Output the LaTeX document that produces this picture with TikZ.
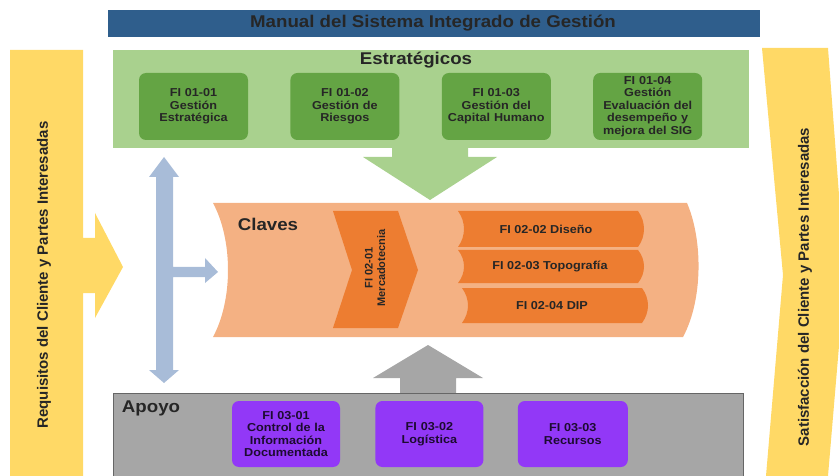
\documentclass[tikz,border=0pt]{standalone}
\usepackage{fontspec}
\setmainfont{Liberation Sans}[FakeStretch=1.1]
\newfontfamily\upright{Liberation Sans}
\usetikzlibrary{positioning}
\definecolor{titleblue}{RGB}{47,94,140}
\definecolor{estlight}{RGB}{169,209,142}
\definecolor{estdark}{RGB}{100,164,68}
\definecolor{sideyellow}{RGB}{255,217,102}
\definecolor{flowblue}{RGB}{168,188,216}
\definecolor{clavlight}{RGB}{244,177,131}
\definecolor{clavdark}{RGB}{237,125,49}
\definecolor{apogray}{RGB}{166,166,166}
\definecolor{apopurple}{RGB}{146,56,247}
\tikzset{
x=1pt, y=-1pt, % one unit is one pixel of the original, y going down
every node/.style={font=\bfseries, text=black!85}, % all text is bold
procbox/.style={rounded corners=7pt, minimum width=109pt, minimum height=67pt, text width=106pt, align=center, inner sep=0pt, font=\bfseries\fontsize{11.5}{12.5}\selectfont}, % process boxes
estbox/.style={procbox, fill=estdark}, % strategic processes
apobox/.style={procbox, fill=apopurple, text=black!80!apopurple}, % support processes
barlabel/.style={font=\bfseries\fontsize{11.5}{13}\selectfont}, % text on the orange bars
grouplabel/.style={font=\bfseries\fontsize{17}{19}\selectfont}, % group titles
sidelabel/.style={rotate=90, font=\upright\bfseries\fontsize{15}{17}\selectfont}, % texts on the yellow side arrows
}

\begin{document}
\begin{tikzpicture}
\useasboundingbox (0,0) rectangle (839,476);

% title bar
\fill[titleblue] (108,10) rectangle (760,37);
\node[grouplabel] (title) at (433,23.5) {Manual del Sistema Integrado de Gestión};

% input and output arrows
\fill[sideyellow] (10,50) -- (83,50) -- (83,238) -- (95,238) -- (95,213) -- (123,267) -- (95,318) -- (95,293) -- (83,293) -- (83,476) -- (10,476) -- cycle;
\node[sidelabel] (req) at (44,275) {Requisitos del Cliente y Partes Interesadas};
\fill[sideyellow] (762,48) -- (828,48) -- (845,275) -- (828,476) -- (766,476) -- (783,275) -- cycle;
\node[sidelabel] (sat) at (805,287) {Satisfacción del Cliente y Partes Interesadas};

% blue double arrow with branch
\fill[flowblue] (164,157) -- (179,177) -- (173,177) -- (173,267) -- (205,267) -- (205,258) -- (218,272) -- (205,283) -- (205,277) -- (173,277) -- (173,370) -- (179,370) -- (164,383) -- (149,370) -- (156,370) -- (156,177) -- (149,177) -- cycle;

% strategic processes
\fill[estlight] (113,50) rectangle (749,148);
\node[grouplabel] (est) at (416,60) {Estratégicos};
\node[estbox] (e1) at (193.5,106.5) {FI 01-01\\Gestión\\Estratégica};
\node[estbox, right=42pt of e1] (e2) {FI 01-02\\Gestión de\\Riesgos};
\node[estbox, right=42pt of e2] (e3) {FI 01-03\\Gestión del\\Capital Humano};
\node[estbox, right=42pt of e3] (e4) {FI 01-04\\Gestión\\Evaluación del\\desempeño y\\mejora del SIG};
\fill[estlight] (392,148) -- (468,148) -- (468,157) -- (497,157) -- (430,200) -- (363,157) -- (392,157) -- cycle;

% key processes
\fill[clavlight] (213,203) -- (687,203) .. controls (703,240) and (703,300) .. (683,337) -- (213,337) .. controls (233,300) and (233,240) .. cycle;
\node[grouplabel] (clav) at (268,224) {Claves};
\fill[clavdark] (333,211) -- (398,211) -- (418,270) -- (398,328) -- (333,328) -- (352,270) -- cycle;
\node[rotate=90, align=center, font=\upright\bfseries\fontsize{11}{12.5}\selectfont] (merc) at (375,268) {FI 02-01\\Mercadotecnia};
\fill[clavdark] (458,211) -- (638,211) .. controls (646,222) and (646,236) .. (638,247) -- (458,247) .. controls (466,236) and (466,222) .. cycle;
\node[barlabel] (dis) at (546,229) {FI 02-02 Diseño};
\fill[clavdark] (458,250) -- (638,250) .. controls (646,260) and (646,273) .. (638,283) -- (458,283) .. controls (466,273) and (466,260) .. cycle;
\node[barlabel] (topo) at (550,266.5) {FI 02-03 Topografía};
\fill[clavdark] (462,288) -- (642,288) .. controls (650,299) and (650,312) .. (642,323) -- (462,323) .. controls (470,312) and (470,299) .. cycle;
\node[barlabel] (dip) at (552,305.5) {FI 02-04 DIP};

% support processes
\fill[apogray] (428,345) -- (483,378) -- (456,378) -- (456,394) -- (400,394) -- (400,378) -- (373,378) -- cycle;
\filldraw[fill=apogray, draw=gray!80!black, line width=0.8pt] (113,476) -- (113,393) -- (743,393) -- (743,476);
\node[grouplabel] (apo) at (151,408) {Apoyo};
\node[apobox, minimum width=108pt, minimum height=66pt] (a1) at (286,434) {FI 03-01\\Control de la\\Información\\Documentada};
\node[apobox, minimum width=108pt, minimum height=66pt, right=35pt of a1] (a2) {FI 03-02\\Logística};
\node[apobox, minimum width=110pt, minimum height=66pt, right=34pt of a2] (a3) {FI 03-03\\Recursos};
\end{tikzpicture}
\end{document}
